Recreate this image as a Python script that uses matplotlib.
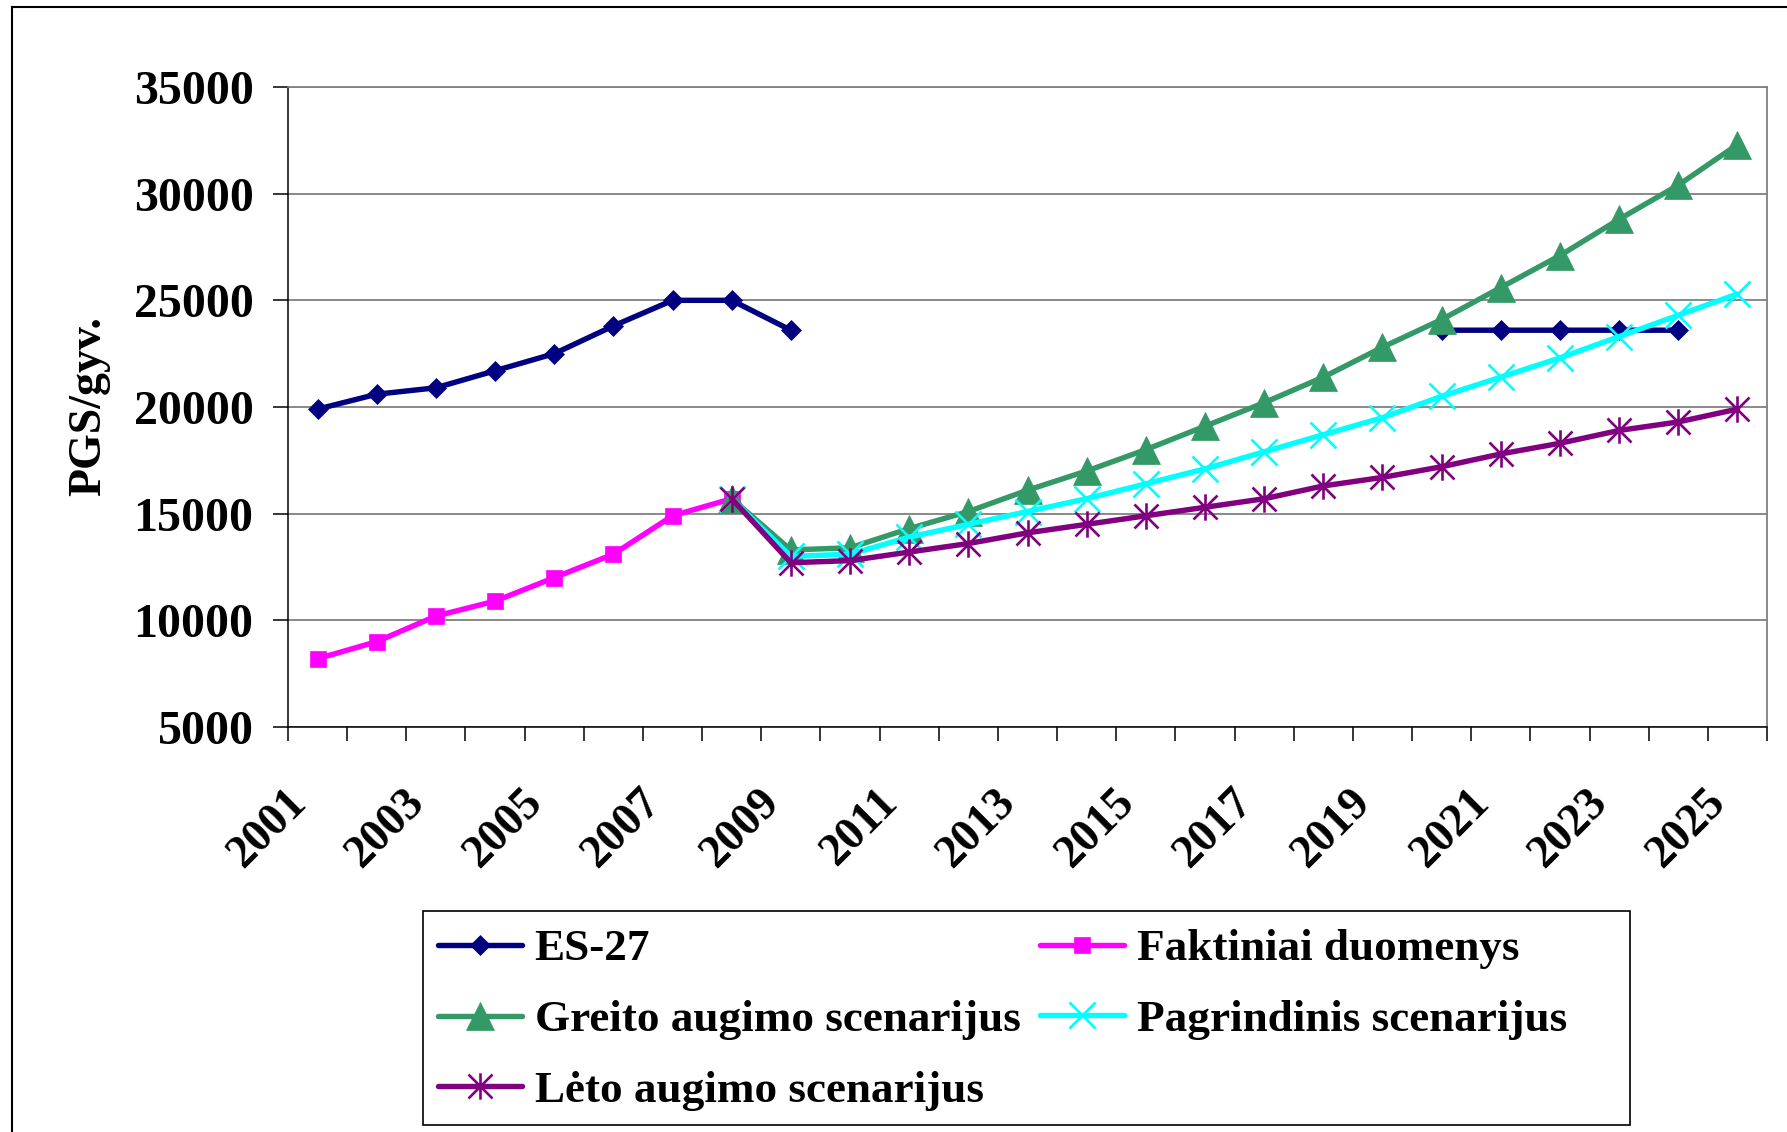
import numpy as np
import matplotlib
matplotlib.use("Agg")
import matplotlib.pyplot as plt
from matplotlib.path import Path
from matplotlib.lines import Line2D
from matplotlib.patches import Rectangle
from matplotlib.transforms import ScaledTranslation

nan = np.nan
years = list(range(2001, 2026))
tick_years = [str(y) for y in years if y % 2 == 1]

es27 = [19900, 20600, 20900, 21700, 22500, 23800, 25000, 25000, 23600,
        nan, nan, nan, nan, nan, nan, nan, nan, nan, nan,
        23600, 23600, 23600, 23600, 23600, nan]
faktiniai = [8200, 9000, 10200, 10900, 12000, 13100, 14900, 15700] + [nan] * 17
greito = [nan] * 7 + [15700, 13300, 13400, 14300, 15100, 16100, 17000, 18000, 19100,
                      20200, 21400, 22800, 24100, 25600, 27100, 28800, 30400, 32300]
pagrindinis = [nan] * 7 + [15700, 13000, 13100, 13900, 14500, 15100, 15700, 16400, 17100,
                           17900, 18700, 19500, 20500, 21400, 22300, 23300, 24300, 25300]
leto = [nan] * 7 + [15700, 12700, 12800, 13200, 13600, 14100, 14500, 14900, 15300,
                    15700, 16300, 16700, 17200, 17800, 18300, 18900, 19300, 19900]

labels = ["ES-27", "Faktiniai duomenys", "Greito augimo scenarijus",
          "Pagrindinis scenarijus", "Lėto augimo scenarijus"]
yticks = [5000, 10000, 15000, 20000, 25000, 30000, 35000]

W, H = 1787, 1132
DPI = 100
FONT = "Liberation Serif"
FS = 33

plt.rcParams['font.family'] = [FONT, 'DejaVu Serif']
plt.rcParams['font.weight'] = 'bold'

fig = plt.figure(figsize=(W / DPI, H / DPI), dpi=DPI)
fig.patch.set_facecolor('white')

L, R, T, B = 288, 1767, 87, 727
ax = fig.add_axes([L / W, 1 - B / H, (R - L) / W, (B - T) / H])

star = Path([(-1, -1), (1, 1), (-1, 1), (1, -1), (0, -1.1), (0, 1.1)],
            [Path.MOVETO, Path.LINETO, Path.MOVETO, Path.LINETO, Path.MOVETO, Path.LINETO])

x = np.arange(len(years))
LW = 3.9
series = [
    (es27, '#000080', dict(marker='D', markersize=10.5, markeredgewidth=0.5)),
    (faktiniai, '#FF00FF', dict(marker='s', markersize=11, markeredgewidth=0.5)),
    (greito, '#339966', dict(marker='^', markersize=19.5, markeredgewidth=0.5)),
    (pagrindinis, '#00FFFF', dict(marker='x', markersize=18.5, markeredgewidth=1.9)),
    (leto, '#800080', dict(marker=star, markersize=19, markeredgewidth=1.9)),
]
handles = []
for (vals, col, mk), lab in zip(series, labels):
    h, = ax.plot(x, vals, color=col, lw=LW, markerfacecolor=col,
                 markeredgecolor=col, label=lab, solid_joinstyle='round',
                 solid_capstyle='round', **mk)
    handles.append(h)

ax.set_xlim(-0.5, len(years) - 0.5)
ax.set_ylim(5000, 35000)
ax.set_yticks(yticks)
ax.set_yticklabels([str(v) for v in yticks], fontsize=34.5, fontweight='bold', family=FONT)
ax.yaxis.grid(True, color='#808080', lw=1.3)
ax.set_axisbelow(True)

# category boundary ticks
ax.set_xticks(np.arange(-0.5, len(years), 1.0))
ax.set_xticklabels([])
ax.tick_params(axis='x', which='major', direction='out', length=10, width=1.1, color='black')
ax.tick_params(axis='y', which='major', direction='out', length=10.8, width=1.1,
               color='black', pad=14)

# labels at category centers
ax.set_xticks([i for i, y in enumerate(years) if y % 2 == 1], minor=True)
ax.set_xticklabels(tick_years, minor=True, fontsize=FS, fontweight='bold', family=FONT)
ax.tick_params(axis='x', which='minor', length=0, pad=50)
offset = ScaledTranslation(-18 / DPI, 0, fig.dpi_scale_trans)
for lbl in ax.get_xticklabels(minor=True):
    lbl.set_rotation(45)
    lbl.set_ha('right')
    lbl.set_va('center')
    lbl.set_rotation_mode('anchor')
    lbl.set_transform(lbl.get_transform() + offset)

for s in ['left', 'bottom']:
    ax.spines[s].set_color('black')
    ax.spines[s].set_linewidth(1.1)
for s in ['right', 'top']:
    ax.spines[s].set_color('#808080')
    ax.spines[s].set_linewidth(1.3)

fig.text(89 / W, 1 - 406 / H, "PGS/gyv.", rotation=90, ha='center', va='center',
         fontsize=FS, fontweight='bold', family=FONT)

# outer chart border
fig.add_artist(Line2D([12 / W, 1.0], [1 - 7 / H, 1 - 7 / H], transform=fig.transFigure,
                      color='black', lw=1.5))
fig.add_artist(Line2D([12 / W, 12 / W], [0, 1 - 7 / H], transform=fig.transFigure,
                      color='black', lw=1.5))

# legend frame
fig.add_artist(Rectangle((423 / W, 1 - 1125 / H), (1630 - 423) / W, (1125 - 911) / H,
                         transform=fig.transFigure, fill=False, edgecolor='black', lw=1.2))

LFS = 32.5
leg_kw = dict(frameon=False, prop={'family': FONT, 'weight': 'bold', 'size': LFS},
              handlelength=1.87, handletextpad=0.27, labelspacing=0.67,
              borderpad=0, borderaxespad=0, loc='center left')
leg1 = fig.legend([handles[0], handles[2], handles[4]], [labels[0], labels[2], labels[4]],
                  bbox_to_anchor=(438 / W, 1 - 1020 / H), **leg_kw)
leg2 = fig.legend([handles[1], handles[3]], [labels[1], labels[3]],
                  bbox_to_anchor=(1040 / W, 1 - 984.5 / H), **leg_kw)

fig.savefig("out.png", dpi=DPI, facecolor='white')
